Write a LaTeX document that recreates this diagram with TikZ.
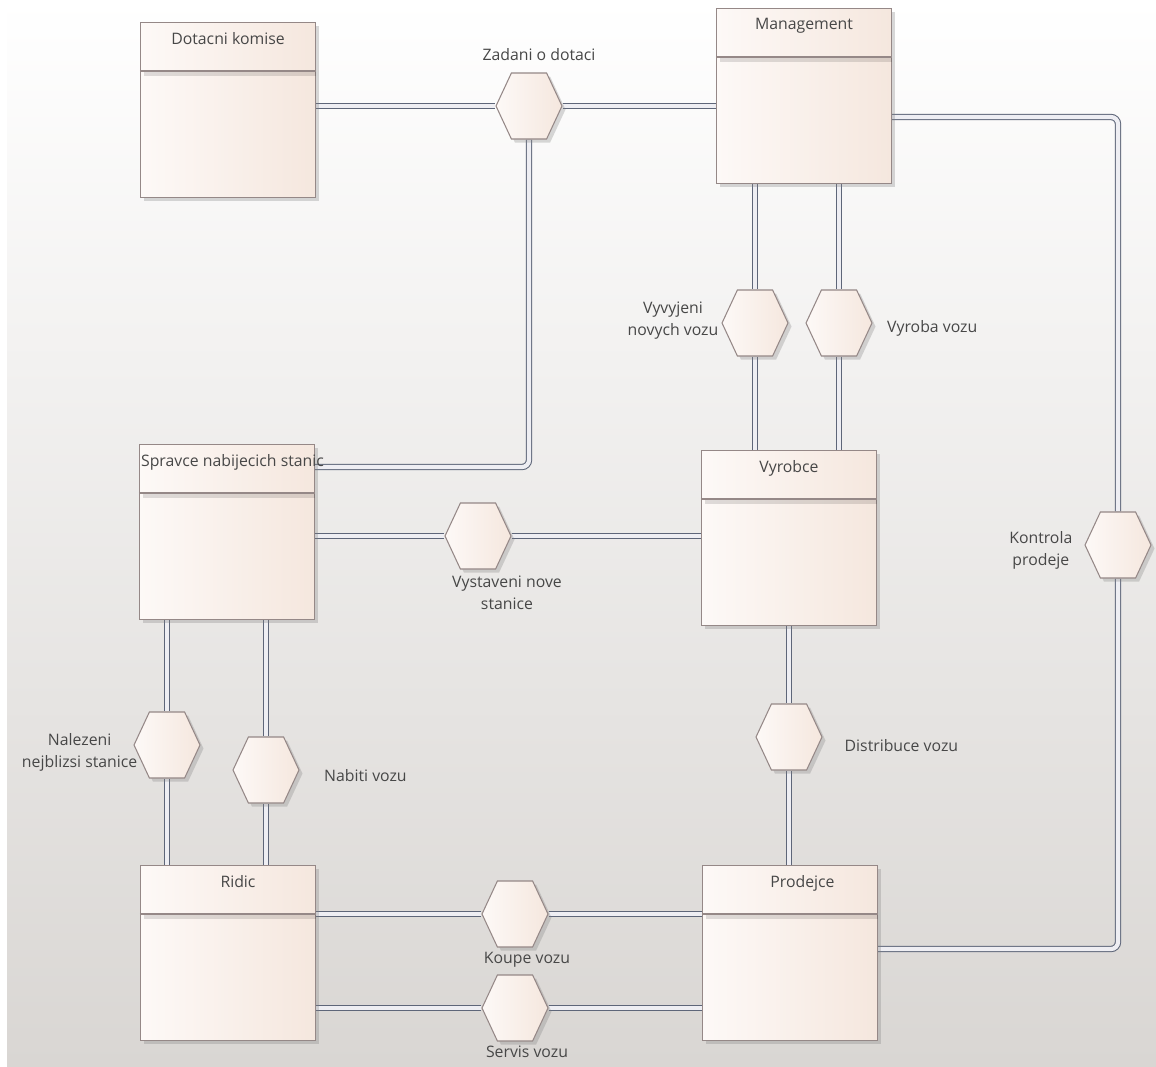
\documentclass[tikz,border=0pt]{standalone}
\usepackage{fontspec}
\setmainfont{Open Sans}
\usepackage{xcolor}
\usepackage{tikz}
\usetikzlibrary{shapes.symbols, positioning, shadows, backgrounds}

\definecolor{boxl}{HTML}{FDF9F7}
\definecolor{boxm}{HTML}{FEFAF8}
\definecolor{boxr}{HTML}{F5E7DE}
\definecolor{edge}{HTML}{958887}
\definecolor{wire}{HTML}{5E6679}
\definecolor{wirein}{HTML}{EEEEF3}
\definecolor{txt}{HTML}{474747}
\definecolor{bgbot}{HTML}{D9D6D3}

\begin{document}
\begin{tikzpicture}[
    x=0.02cm, y=-0.02cm,
    font=\fontsize{9}{12.5}\selectfont, text=txt,
    block/.style={rectangle, draw=edge, line width=0.6pt, left color=boxl, middle color=boxm, right color=boxr, minimum width=3.5cm, minimum height=3.5cm, drop shadow={shadow xshift=2pt, shadow yshift=-2pt, opacity=0.3}},
    usecase/.style={signal, signal to=west and east, signal pointer angle=130, draw=edge, line width=0.6pt, left color=boxl, middle color=boxm, right color=boxr, minimum width=1.32cm, minimum height=1.32cm, inner sep=0pt, drop shadow={shadow xshift=2pt, shadow yshift=-2pt, opacity=0.3}},
    title/.style={anchor=north, inner sep=0pt, yshift=-0.2cm},
    sep/.style={draw=edge, line width=0.6pt},
    sepshade/.style={draw=black, opacity=0.12, line width=2pt},
    lbl/.style={align=center, inner sep=1pt},
    line/.style={draw=wire, line width=0.6pt, double=wirein, double distance=2.4pt, rounded corners=4pt}
]
\useasboundingbox (0,0) rectangle (1156,1066);

% Actors
\node[block] (dotace) at (228,110) {};
\node[block] (mgmt) at (804,96) {};
\node[block] (spravce) at (227,532) {};
\node[block] (vyrobce) at (789,538) {};
\node[block] (ridic) at (228,953) {};
\node[block] (prodejce) at (790,953) {};

\node[title] at (dotace.north) {Dotacni komise};
\node[title] at (mgmt.north) {Management};
\node[title, anchor=north west, xshift=1pt] at (spravce.north west) {Spravce nabijecich stanic};
\node[title] at (vyrobce.north) {Vyrobce};
\node[title, xshift=0.2cm] at (ridic.north) {Ridic};
\node[title, xshift=0.25cm] at (prodejce.north) {Prodejce};

% Header lines
\draw[sepshade] ([yshift=-1.04cm, xshift=2pt]dotace.north west) -- ([yshift=-1.04cm]dotace.north east);
\draw[sepshade] ([yshift=-1.04cm, xshift=2pt]mgmt.north west) -- ([yshift=-1.04cm]mgmt.north east);
\draw[sepshade] ([yshift=-1.04cm, xshift=2pt]spravce.north west) -- ([yshift=-1.04cm]spravce.north east);
\draw[sepshade] ([yshift=-1.04cm, xshift=2pt]vyrobce.north west) -- ([yshift=-1.04cm]vyrobce.north east);
\draw[sepshade] ([yshift=-1.04cm, xshift=2pt]ridic.north west) -- ([yshift=-1.04cm]ridic.north east);
\draw[sepshade] ([yshift=-1.04cm, xshift=2pt]prodejce.north west) -- ([yshift=-1.04cm]prodejce.north east);
\draw[sep] ([yshift=-0.98cm]dotace.north west) -- ([yshift=-0.98cm]dotace.north east);
\draw[sep] ([yshift=-0.98cm]mgmt.north west) -- ([yshift=-0.98cm]mgmt.north east);
\draw[sep] ([yshift=-0.98cm]spravce.north west) -- ([yshift=-0.98cm]spravce.north east);
\draw[sep] ([yshift=-0.98cm]vyrobce.north west) -- ([yshift=-0.98cm]vyrobce.north east);
\draw[sep] ([yshift=-0.98cm]ridic.north west) -- ([yshift=-0.98cm]ridic.north east);
\draw[sep] ([yshift=-0.98cm]prodejce.north west) -- ([yshift=-0.98cm]prodejce.north east);

% Use cases
\node[usecase] (zadani) at (529,106) {};
\node[usecase] (vyvyjeni) at (755,323) {};
\node[usecase] (vyroba) at (839,323) {};
\node[usecase] (vystaveni) at (478,536) {};
\node[usecase] (kontrola) at (1118,545) {};
\node[usecase] (distribuce) at (789,737) {};
\node[usecase] (nalezeni) at (167,745) {};
\node[usecase] (nabiti) at (266,770) {};
\node[usecase] (koupe) at (515,914) {};
\node[usecase] (servis) at (515,1008) {};

% Use case labels
\node[lbl, above=0.2cm of zadani, xshift=0.2cm] {Zadani o dotaci};
\node[lbl, left=0.02cm of vyvyjeni, yshift=0.05cm] {Vyvyjeni\\novych vozu};
\node[lbl, right=0.25cm of vyroba, yshift=-0.1cm] {Vyroba vozu};
\node[lbl, below=0.08cm of vystaveni, xshift=0.58cm] {Vystaveni nove\\stanice};
\node[lbl, left=0.2cm of kontrola, yshift=-0.1cm] {Kontrola\\prodeje};
\node[lbl, right=0.4cm of distribuce, yshift=-0.18cm] {Distribuce vozu};
\node[lbl, left=-0.12cm of nalezeni, yshift=-0.14cm] {Nalezeni\\nejblizsi stanice};
\node[lbl, right=0.45cm of nabiti, yshift=-0.12cm] {Nabiti vozu};
\node[lbl, below=0.05cm of koupe, xshift=0.24cm] {Koupe vozu};
\node[lbl, below=0.05cm of servis, xshift=0.24cm] {Servis vozu};

\begin{scope}[on background layer]
% Background
\fill[white] (0,0) rectangle (1156,1066);
\shade[top color=white, bottom color=bgbot] (7,0) rectangle (1156,1066);

% Connections
\draw[line] (dotace.east |- zadani) -- (zadani) -- (mgmt.west |- zadani);
\draw[line] (zadani) |- ([yshift=1.3cm]spravce.east);
\draw[line] (mgmt.south -| vyvyjeni) -- (vyvyjeni) -- (vyrobce.north -| vyvyjeni);
\draw[line] (mgmt.south -| vyroba) -- (vyroba) -- (vyrobce.north -| vyroba);
\draw[line] ([yshift=-0.42cm]mgmt.east) -| (kontrola) |- ([yshift=0.08cm]prodejce.east);
\draw[line] (spravce.east |- vystaveni) -- (vystaveni) -- (vyrobce.west |- vystaveni);
\draw[line] (vyrobce.south -| distribuce) -- (distribuce) -- (prodejce.north -| distribuce);
\draw[line] (spravce.south -| nalezeni) -- (nalezeni) -- (ridic.north -| nalezeni);
\draw[line] (spravce.south -| nabiti) -- (nabiti) -- (ridic.north -| nabiti);
\draw[line] (ridic.east |- koupe) -- (koupe) -- (prodejce.west |- koupe);
\draw[line] (ridic.east |- servis) -- (servis) -- (prodejce.west |- servis);
\end{scope}

\end{tikzpicture}
\end{document}
